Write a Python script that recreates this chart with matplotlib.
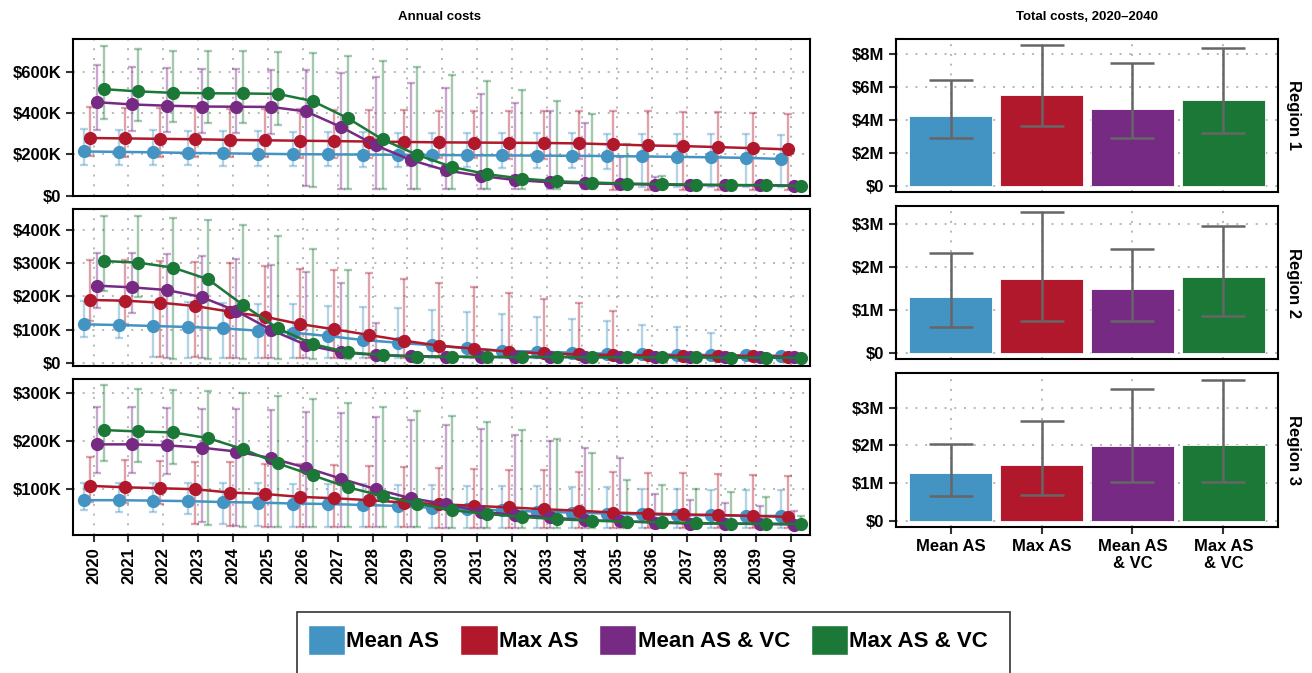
import matplotlib
matplotlib.use('Agg')
import matplotlib.pyplot as plt
import numpy as np
from matplotlib.patches import Patch, Rectangle
from matplotlib.ticker import FuncFormatter

plt.rcParams['font.family'] = ['Liberation Sans', 'DejaVu Sans']
plt.rcParams['font.weight'] = 'bold'

years = list(range(2020, 2041))
scenarios = ['Mean AS', 'Max AS', 'Mean AS & VC', 'Max AS & VC']
bar_labels = ['Mean AS', 'Max AS', 'Mean AS\n& VC', 'Max AS\n& VC']
colors = ['#4393C3', '#B2182B', '#762A83', '#1B7837']
regions = ['Region 1', 'Region 2', 'Region 3']

# Annual costs in thousands of $ (one list per scenario, order as in scenarios)
r1_mean = [
    [214, 212, 210, 207, 205, 203, 201, 200, 199, 198, 197, 196, 195, 194, 193, 192, 190, 188, 186, 183, 178],
    [279, 277, 275, 273, 270, 268, 266, 264, 262, 260, 258, 257, 256, 255, 253, 248, 243, 240, 235, 230, 224],
    [452, 441, 435, 431, 430, 429, 407, 332, 243, 173, 123, 96, 76, 65, 60, 57, 54, 52, 51, 51, 49],
    [515, 504, 497, 495, 494, 492, 457, 375, 272, 197, 139, 104, 83, 70, 64, 59, 56, 54, 52, 51, 48],
]
r1_lo = [
    [150, 149, 148, 147, 146, 145, 143, 142, 141, 140, 138, 137, 136, 135, 134, 130, 42, 42, 42, 42, 42],
    [190, 189, 188, 187, 186, 185, 184, 183, 183, 182, 181, 181, 180, 180, 180, 30, 30, 30, 30, 30, 30],
    [320, 312, 308, 305, 302, 300, 46, 35, 35, 35, 33, 33, 33, 33, 33, 33, 33, 33, 33, 33, 33],
    [369, 359, 354, 352, 350, 340, 42, 33, 33, 33, 33, 33, 33, 33, 33, 33, 33, 33, 33, 33, 33],
]
r1_hi = [
    [322, 320, 318, 315, 313, 311, 308, 307, 306, 305, 304, 303, 303, 302, 302, 300, 299, 298, 298, 297, 295],
    [428, 426, 424, 422, 421, 420, 418, 416, 414, 412, 410, 410, 409, 409, 408, 408, 407, 405, 403, 400, 395],
    [632, 621, 616, 612, 610, 608, 605, 594, 573, 544, 521, 492, 447, 407, 351, 187, 91, 70, 68, 66, 65],
    [722, 709, 701, 700, 697, 696, 691, 677, 650, 621, 585, 553, 512, 457, 393, 248, 94, 70, 66, 64, 62],
]

r2_mean = [
    [116, 114, 111, 108, 104, 97, 91, 81, 69, 61, 53, 44, 37, 34, 31, 28, 26, 25, 24, 23, 22],
    [189, 187, 181, 171, 154, 139, 117, 101, 84, 67, 52, 43, 34, 29, 26, 24, 23, 22, 22, 21, 19],
    [232, 227, 219, 198, 156, 99, 54, 32, 24, 21, 19, 18, 18, 18, 18, 18, 18, 18, 17, 17, 17],
    [306, 301, 286, 251, 174, 104, 57, 32, 24, 19, 19, 18, 18, 18, 17, 17, 17, 17, 16, 16, 16],
]
r2_lo = [
    [79, 74, 18, 16, 16, 15, 15, 15, 15, 15, 15, 15, 15, 15, 15, 15, 15, 15, 15, 15, 15],
    [127, 117, 19, 17, 16, 15, 15, 15, 15, 15, 15, 15, 15, 15, 15, 15, 15, 15, 15, 15, 15],
    [164, 149, 15, 14, 14, 14, 14, 14, 14, 14, 14, 14, 14, 14, 14, 14, 14, 14, 14, 14, 14],
    [216, 199, 13, 13, 13, 13, 13, 13, 13, 13, 13, 13, 13, 13, 13, 13, 13, 13, 13, 13, 13],
]
r2_hi = [
    [186, 185, 183, 183, 181, 177, 176, 171, 169, 164, 159, 154, 147, 139, 133, 127, 114, 107, 91, 28, 26],
    [309, 309, 306, 304, 299, 291, 283, 279, 271, 251, 241, 229, 211, 193, 181, 156, 30, 28, 27, 26, 24],
    [331, 329, 327, 322, 313, 295, 272, 241, 121, 24, 22, 21, 21, 21, 21, 21, 21, 21, 20, 20, 20],
    [442, 442, 436, 429, 414, 381, 341, 279, 27, 22, 22, 21, 21, 21, 20, 20, 20, 20, 19, 19, 19],
]

r3_mean = [
    [76, 76, 75, 74, 72, 71, 69, 68, 66, 64, 60, 57, 55, 52, 50, 48, 46, 45, 44, 43, 43],
    [106, 103, 101, 99, 92, 89, 83, 80, 76, 71, 68, 64, 61, 57, 54, 50, 48, 46, 45, 43, 41],
    [193, 193, 191, 186, 178, 164, 144, 121, 99, 80, 68, 52, 45, 40, 34, 32, 29, 27, 27, 26, 25],
    [223, 220, 218, 206, 183, 153, 128, 103, 85, 69, 55, 47, 41, 36, 33, 31, 30, 28, 27, 27, 26],
]
r3_lo = [
    [55, 52, 52, 47, 26, 22, 20, 19, 19, 19, 18, 18, 18, 18, 18, 18, 18, 18, 18, 18, 18],
    [73, 71, 68, 26, 22, 20, 19, 19, 19, 19, 18, 18, 18, 18, 18, 18, 18, 18, 18, 18, 18],
    [134, 133, 131, 31, 22, 20, 19, 19, 19, 19, 18, 18, 18, 18, 18, 18, 18, 18, 18, 18, 18],
    [158, 155, 152, 24, 20, 19, 19, 19, 19, 19, 18, 18, 18, 18, 18, 18, 18, 18, 18, 18, 18],
]
r3_hi = [
    [113, 113, 113, 112, 112, 111, 110, 110, 109, 108, 107, 106, 105, 105, 104, 104, 99, 99, 98, 97, 97],
    [167, 160, 159, 155, 155, 152, 151, 150, 148, 146, 143, 141, 140, 139, 136, 136, 134, 132, 130, 129, 127],
    [272, 272, 270, 268, 267, 265, 261, 258, 251, 244, 234, 225, 213, 200, 185, 164, 89, 76, 71, 64, 54],
    [317, 308, 307, 305, 301, 295, 288, 279, 272, 263, 252, 240, 223, 204, 174, 118, 108, 100, 93, 83, 43],
]

# Total costs 2020-2040 in millions of $ (per region, order as in scenarios)
tot_mean = [[4.25, 5.49, 4.66, 5.20], [1.29, 1.71, 1.48, 1.77], [1.28, 1.49, 1.98, 2.00]]
tot_lo = [[2.88, 3.62, 2.92, 3.18], [0.61, 0.75, 0.75, 0.85], [0.66, 0.70, 1.03, 1.03]]
tot_hi = [[6.42, 8.55, 7.47, 8.38], [2.32, 3.26, 2.41, 2.94], [2.04, 2.65, 3.50, 3.74]]

annual = [(r1_mean, r1_lo, r1_hi), (r2_mean, r2_lo, r2_hi), (r3_mean, r3_lo, r3_hi)]
left_ylims = [(-1, 757), (-9, 462), (3, 330)]
left_yticks = [[0, 200, 400, 600], [0, 100, 200, 300, 400], [100, 200, 300]]
right_ylims = [(-0.38, 8.91), (-0.14, 3.41), (-0.16, 3.92)]
right_yticks = [[0, 2, 4, 6, 8], [0, 1, 2, 3], [0, 1, 2, 3]]

W, H = 1312, 673
fig = plt.figure(figsize=(W / 100, H / 100), dpi=100)

def box(x0, y0, x1, y1):
    return [x0 / W, 1 - y1 / H, (x1 - x0) / W, (y1 - y0) / H]

left_px = [(73, 39, 810, 196), (73, 209, 810, 366), (73, 379, 810, 535)]
right_px = [(896, 39, 1278, 192), (896, 206, 1278, 359), (896, 373, 1278, 527)]

grid_kw = dict(color='#b5b5b5', linestyle=(0, (1, 4)), linewidth=1.4)
dodge = np.array([-1.5, -0.5, 0.5, 1.5]) * 0.19
yrs = np.array(years)

kfmt = FuncFormatter(lambda v, p: '$0' if v == 0 else f'${int(v)}K')
mfmt = FuncFormatter(lambda v, p: '$0' if v == 0 else f'${int(v)}M')

for r in range(3):
    ax = fig.add_axes(box(*left_px[r]))
    means, los, his = annual[r]
    for i in range(4):
        m = np.array(means[i]); lo = np.array(los[i]); hi = np.array(his[i])
        ax.errorbar(yrs + dodge[i], m, yerr=[m - lo, hi - m], fmt='none',
                    ecolor=colors[i], alpha=0.4, elinewidth=1.7, capsize=3, capthick=1.7, zorder=2)
    for i in range(4):
        ax.plot(yrs + dodge[i], means[i], color=colors[i], lw=1.8, marker='o', ms=8.5, zorder=3)
    ax.set_xlim(2019.41, 2040.54)
    ax.set_ylim(*left_ylims[r])
    ax.set_yticks(left_yticks[r])
    ax.yaxis.set_major_formatter(kfmt)
    ax.set_xticks(years)
    ax.grid(True, **grid_kw)
    ax.set_axisbelow(True)
    for s in ax.spines.values():
        s.set_linewidth(1.5)
    ax.tick_params(axis='y', labelsize=12, length=5, width=1.5, color='#333333')
    if r < 2:
        ax.tick_params(axis='x', length=0, labelbottom=False)
    else:
        ax.tick_params(axis='x', labelsize=12, length=5, width=1.5, color='#333333', labelrotation=90)

    bx = fig.add_axes(box(*right_px[r]))
    pos = np.arange(1, 5)
    m = np.array(tot_mean[r]); lo = np.array(tot_lo[r]); hi = np.array(tot_hi[r])
    bx.bar(pos, m, width=0.92, color=colors, edgecolor='white', linewidth=0.6, zorder=2)
    bx.errorbar(pos, m, yerr=[m - lo, hi - m], fmt='none', ecolor='#666666',
                elinewidth=1.8, capsize=16, capthick=1.8, zorder=3)
    bx.set_xlim(0.4, 4.6)
    bx.set_ylim(*right_ylims[r])
    bx.set_yticks(right_yticks[r])
    bx.yaxis.set_major_formatter(mfmt)
    bx.set_xticks(pos)
    bx.grid(True, **grid_kw)
    bx.set_axisbelow(True)
    for s in bx.spines.values():
        s.set_linewidth(1.5)
    bx.tick_params(axis='y', labelsize=12, length=5, width=1.5, color='#333333')
    if r < 2:
        bx.tick_params(axis='x', length=0, labelbottom=False)
    else:
        bx.set_xticklabels(bar_labels)
        bx.tick_params(axis='x', labelsize=12, length=5, width=1.5, color='#333333')
    bx.text(1.04, 0.5, regions[r], transform=bx.transAxes, rotation=-90,
            ha='center', va='center', fontsize=12, fontweight='bold')

fig.text(440 / W, 1 - 17 / H, 'Annual costs', ha='center', va='center', fontsize=9.5, fontweight='bold')
fig.text(1087 / W, 1 - 17 / H, 'Total costs, 2020\u20132040', ha='center', va='center',
         fontsize=9.5, fontweight='bold')

handles = [Patch(facecolor=c, edgecolor='white') for c in colors]
fig.legend(handles, scenarios, loc='center', bbox_to_anchor=(648 / W, 1 - 640 / H), ncol=4,
           frameon=False, prop={'size': 16, 'weight': 'bold'}, handlelength=1.67,
           handleheight=1.67, handletextpad=0.05, columnspacing=0.95)
fig.patches.append(Rectangle((297 / W, -0.02), (1010 - 297) / W, (673 - 612) / H + 0.02,
                             transform=fig.transFigure, fill=False, lw=1.2, ec='#333333'))

fig.savefig('out.png', dpi=100)
